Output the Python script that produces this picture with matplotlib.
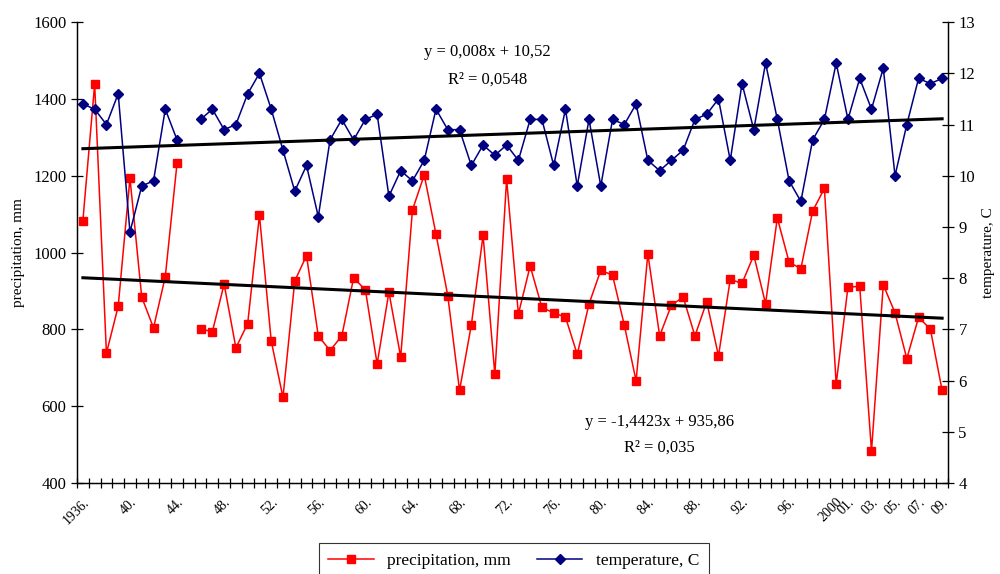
import numpy as np
import matplotlib
matplotlib.use("Agg")
import matplotlib.pyplot as plt

plt.rcParams['font.family'] = ['Liberation Serif', 'DejaVu Serif']

# yearly series, 1945 missing
years = list(range(1936, 2010))
precip = [1083, 1439, 738, 860, 1194, 884, 804, 937, 1233, np.nan,
          801, 794, 918, 752, 815, 1097, 770, 623, 926, 992,
          783, 745, 783, 934, 903, 710, 897, 728, 1111, 1202,
          1048, 888, 641, 811, 1045, 683, 1191, 840, 965, 857,
          843, 832, 735, 866, 954, 941, 811, 666, 997, 783,
          863, 884, 783, 872, 731, 930, 920, 993, 867, 1090,
          975, 958, 1108, 1167, 658, 910, 912, 483, 916, 843,
          724, 831, 801, 641]
temp = [11.4, 11.3, 11.0, 11.6, 8.9, 9.8, 9.9, 11.3, 10.7, np.nan,
        11.1, 11.3, 10.9, 11.0, 11.6, 12.0, 11.3, 10.5, 9.7, 10.2,
        9.2, 10.7, 11.1, 10.7, 11.1, 11.2, 9.6, 10.1, 9.9, 10.3,
        11.3, 10.9, 10.9, 10.2, 10.6, 10.4, 10.6, 10.3, 11.1, 11.1,
        10.2, 11.3, 9.8, 11.1, 9.8, 11.1, 11.0, 11.4, 10.3, 10.1,
        10.3, 10.5, 11.1, 11.2, 11.5, 10.3, 11.8, 10.9, 12.2, 11.1,
        9.9, 9.5, 10.7, 11.1, 12.2, 11.1, 11.9, 11.3, 12.1, 10.0,
        11.0, 11.9, 11.8, 11.9]

# linear trends (x = 1..n)
precip_slope, precip_icpt = -1.4423, 935.86
temp_slope, temp_icpt = 0.008, 10.52

label_years = [1936, 1940, 1944, 1948, 1952, 1956, 1960, 1964, 1968, 1972,
               1976, 1980, 1984, 1988, 1992, 1996, 2000, 2001, 2003, 2005,
               2007, 2009]
label_text = ['1936.', '40.', '44.', '48.', '52.', '56.', '60.', '64.', '68.',
              '72.', '76.', '80.', '84.', '88.', '92.', '96.', '2000', '01.',
              '03.', '05.', '07.', '09.']

pos = np.arange(len(years))
red = '#FF0000'
navy = '#000080'

fig = plt.figure(figsize=(10, 5.74), dpi=100)
ax = fig.add_axes([0.077, 0.1585, 0.871, 0.803])
ax2 = ax.twinx()

l1, = ax.plot(pos, precip, color=red, lw=1.1, marker='s', ms=5.5,
              label='precipitation, mm')
l2, = ax2.plot(pos, temp, color=navy, lw=1.1, marker='D', ms=5,
               label='temperature, C')

xt = np.array([1, len(years)])
ax.plot(xt - 1, precip_slope * xt + precip_icpt, color='black', lw=2.2)
ax2.plot(xt - 1, temp_slope * xt + temp_icpt, color='black', lw=2.2)

ax.set_xlim(-0.5, len(years) - 0.5)
ax.set_ylim(400, 1600)
ax2.set_ylim(4, 13)
ax.set_yticks(np.arange(400, 1601, 200))
ax2.set_yticks(np.arange(4, 14, 1))

# category ticks between years, labels on the years
ax.set_xticks(np.arange(-0.5, len(years), 1), minor=True)
ax.set_xticks([years.index(y) for y in label_years])
ax.set_xticklabels(label_text, rotation=45, ha='right', va='top',
                   rotation_mode='anchor', fontsize=10)
ax.tick_params(axis='x', which='major', length=0, pad=9)
ax.tick_params(axis='x', which='minor', direction='inout', length=7, width=0.9)
ax.tick_params(axis='y', direction='inout', length=8, width=0.9, labelsize=12)
ax2.tick_params(axis='y', direction='inout', length=8, width=0.9, labelsize=12)

for a in (ax, ax2):
    a.spines['top'].set_visible(False)
    for s in a.spines.values():
        s.set_linewidth(0.9)

ax.set_ylabel('precipitation, mm', fontsize=11, labelpad=6)
ax2.set_ylabel('temperature, C', fontsize=11, labelpad=5)

ax.text(0.471, 0.935, 'y = 0,008x + 10,52', transform=ax.transAxes,
        ha='center', va='center', fontsize=12)
ax.text(0.471, 0.876, 'R² = 0,0548', transform=ax.transAxes,
        ha='center', va='center', fontsize=12)
ax.text(0.669, 0.132, 'y = -1,4423x + 935,86', transform=ax.transAxes,
        ha='center', va='center', fontsize=12)
ax.text(0.669, 0.076, 'R² = 0,035', transform=ax.transAxes,
        ha='center', va='center', fontsize=12)

leg = fig.legend(handles=[l1, l2], loc='upper center',
                 bbox_to_anchor=(0.514, 1 - 543 / 574), ncol=2,
                 fontsize=12.5, frameon=True, fancybox=False,
                 borderaxespad=0, handlelength=2.6, columnspacing=1.5,
                 borderpad=0.55)
leg.get_frame().set_edgecolor('black')
leg.get_frame().set_linewidth(0.8)

fig.savefig('out.png', dpi=100)
